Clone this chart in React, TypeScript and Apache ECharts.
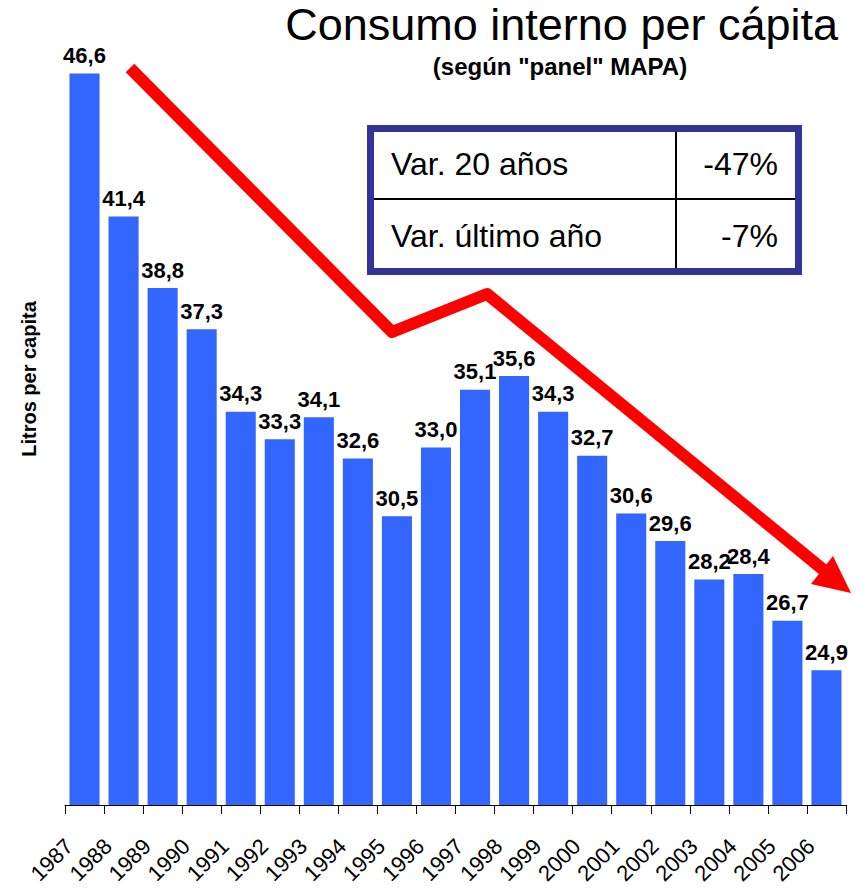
import React, { useEffect, useRef } from "react";
import * as echarts from "echarts";

const years = ["1987","1988","1989","1990","1991","1992","1993","1994","1995","1996","1997","1998","1999","2000","2001","2002","2003","2004","2005","2006"];
const litros = [46.6,41.4,38.8,37.3,34.3,33.3,34.1,32.6,30.5,33.0,35.1,35.6,34.3,32.7,30.6,29.6,28.2,28.4,26.7,24.9];
const tableRows = [
  ["Var. 20 años", "-47%"],
  ["Var. último año", "-7%"],
];

const FONT = "'Liberation Sans', Arial, Helvetica, sans-serif";

export default function App() {
  const ref = useRef<HTMLDivElement>(null);
  useEffect(() => {
    document.body.style.margin = "0";
    const chart = echarts.init(ref.current!, null, { renderer: "svg" });
    const tableGraphics: any[] = [];
    tableRows.forEach((row, i) => {
      const yMid = i === 0 ? 164 : 236;
      tableGraphics.push({
        type: "text", x: 391, y: yMid,
        style: { text: row[0], font: `32px ${FONT}`, fill: "#000", align: "left", verticalAlign: "middle" },
        z: 20,
      });
      tableGraphics.push({
        type: "text", x: 778, y: yMid,
        style: { text: row[1], font: `32px ${FONT}`, fill: "#000", align: "right", verticalAlign: "middle" },
        z: 20,
      });
    });
    chart.setOption({
      animation: false,
      backgroundColor: "#ffffff",
      grid: { left: 65, right: 19, top: 35, bottom: 86, containLabel: false, outerBoundsMode: "none" },
      xAxis: {
        type: "category",
        data: years,
        axisLine: { show: true, lineStyle: { color: "#000", width: 1 } },
        axisTick: { show: true, length: 9, lineStyle: { color: "#000" }, alignWithLabel: false },
        axisLabel: {
          interval: 0, rotate: 45, margin: 22, color: "#000",
          fontFamily: FONT, fontSize: 22, padding: [0, 22, 0, 0],
        },
      },
      yAxis: {
        type: "value", min: 20, max: 48, show: false,
        splitLine: { show: false },
      },
      series: [
        {
          type: "bar",
          data: litros,
          barCategoryGap: "23%",
          itemStyle: { color: "#3366FF" },
          label: {
            show: true, position: "top", distance: 7, color: "#000",
            fontFamily: FONT, fontSize: 22, fontWeight: "bold",
            formatter: (p: any) => String(p.value.toFixed(1)).replace(".", ","),
          },
        },
      ],
      graphic: [
        {
          type: "text", x: 838, y: 24,
          style: { text: "Consumo interno per cápita", font: `45px ${FONT}`, fill: "#000", align: "right", verticalAlign: "middle" },
        },
        {
          type: "text", x: 560, y: 66,
          style: { text: "(según \"panel\" MAPA)", font: `bold 24px ${FONT}`, fill: "#000", align: "center", verticalAlign: "middle" },
        },
        {
          type: "text", x: 29, y: 379, rotation: Math.PI / 2,
          style: { text: "Litros per capita", font: `bold 20px ${FONT}`, fill: "#000", align: "center", verticalAlign: "middle" },
        },
        {
          type: "rect", shape: { x: 370.5, y: 128.5, width: 428, height: 143 },
          style: { fill: "#fff", stroke: "#333399", lineWidth: 7 }, z: 10,
        },
        {
          type: "line", shape: { x1: 374, y1: 199, x2: 795, y2: 199 },
          style: { stroke: "#000", lineWidth: 2 }, z: 11,
        },
        {
          type: "line", shape: { x1: 676, y1: 132, x2: 676, y2: 268 },
          style: { stroke: "#000", lineWidth: 2 }, z: 11,
        },
        ...tableGraphics,
        {
          type: "polyline",
          shape: { points: [[130, 68], [392, 332], [487, 294], [826, 572]] },
          style: { stroke: "#FF0000", lineWidth: 12, fill: null, lineJoin: "round", lineCap: "butt" },
          z: 30,
        },
        {
          type: "polygon",
          shape: { points: [[811, 584], [833, 556], [851, 593]] },
          style: { fill: "#FF0000" },
          z: 31,
        },
      ],
    });
    return () => chart.dispose();
  }, []);
  return <div ref={ref} style={{ position: "fixed", left: 0, top: 0, width: 865, height: 891 }} />;
}
